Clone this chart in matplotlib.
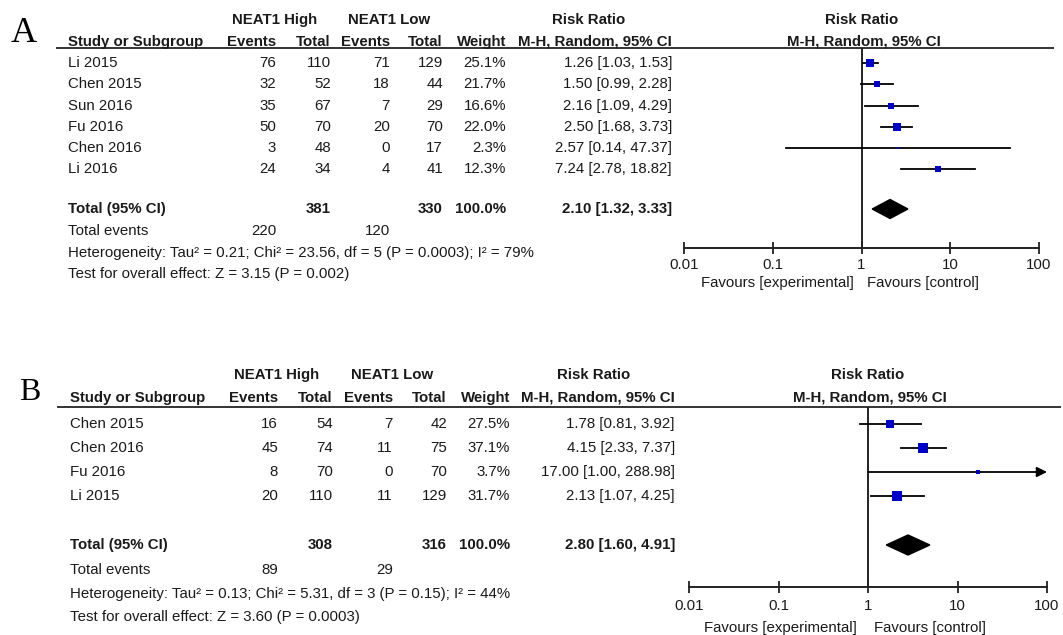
import matplotlib
matplotlib.use("Agg")
import matplotlib.pyplot as plt
import numpy as np
from matplotlib.patches import Polygon

plt.rcParams['font.family'] = ['Liberation Sans', 'DejaVu Sans']

# ---- Panel A: recurrence / prognosis data ----
A_studies = ["Li 2015", "Chen 2015", "Sun 2016", "Fu 2016", "Chen 2016", "Li 2016"]
A_ev_high = [76, 32, 35, 50, 3, 24]
A_tot_high = [110, 52, 67, 70, 48, 34]
A_ev_low = [71, 18, 7, 20, 0, 4]
A_tot_low = [129, 44, 29, 70, 17, 41]
A_weight = [25.1, 21.7, 16.6, 22.0, 2.3, 12.3]
A_rr = [1.26, 1.50, 2.16, 2.50, 2.57, 7.24]
A_lo = [1.03, 0.99, 1.09, 1.68, 0.14, 2.78]
A_hi = [1.53, 2.28, 4.29, 3.73, 47.37, 18.82]
A_pooled = [2.10, 1.32, 3.33]
A_het = "Heterogeneity: Tau² = 0.21; Chi² = 23.56, df = 5 (P = 0.0003); I² = 79%"
A_test = "Test for overall effect: Z = 3.15 (P = 0.002)"

# ---- Panel B ----
B_studies = ["Chen 2015", "Chen 2016", "Fu 2016", "Li 2015"]
B_ev_high = [16, 45, 8, 20]
B_tot_high = [54, 74, 70, 110]
B_ev_low = [7, 11, 0, 11]
B_tot_low = [42, 75, 70, 129]
B_weight = [27.5, 37.1, 3.7, 31.7]
B_rr = [1.78, 4.15, 17.00, 2.13]
B_lo = [0.81, 2.33, 1.00, 1.07]
B_hi = [3.92, 7.37, 288.98, 4.25]
B_pooled = [2.80, 1.60, 4.91]
B_het = "Heterogeneity: Tau² = 0.13; Chi² = 5.31, df = 3 (P = 0.15); I² = 44%"
B_test = "Test for overall effect: Z = 3.60 (P = 0.0003)"

tick_vals = [0.01, 0.1, 1, 10, 100]
tick_labels = ["0.01", "0.1", "1", "10", "100"]

W, H = 1063, 635
FS = 10.8
TXT = "#1a1a1a"
BLUE = "#0000c8"

fig = plt.figure(figsize=(W / 100, H / 100), dpi=100)
bg = fig.add_axes([0, 0, 1, 1])
bg.set_xlim(0, W)
bg.set_ylim(H, 0)
bg.axis("off")


def panel(letter, let_xy, let_fs, studies, ev_h, tot_h, ev_l, tot_l, weight, rr, lo, hi,
          pooled, het, test, lay):
    t = lambda x, y, s, ha="right", bold=False: bg.text(
        x, y, s, ha=ha, va="center", fontsize=FS, color=TXT,
        fontweight="bold" if bold else "normal")
    c = lay["cols"]
    bg.text(let_xy[0], let_xy[1], letter, fontsize=let_fs, family="Liberation Serif",
            ha="left", va="center", color="black")
    # header rows
    y1, y2 = lay["h1"], lay["h2"]
    t(lay["c_high"], y1, "NEAT1 High", "center", True)
    t(lay["c_low"], y1, "NEAT1 Low", "center", True)
    t(lay["c_rr"], y1, "Risk Ratio", "center", True)
    t(lay["c_plot"], y1, "Risk Ratio", "center", True)
    t(c["label"], y2, "Study or Subgroup", "left", True)
    t(c["evh"], y2, "Events", bold=True)
    t(c["toth"], y2, "Total", bold=True)
    t(c["evl"], y2, "Events", bold=True)
    t(c["totl"], y2, "Total", bold=True)
    t(c["w"], y2, "Weight", bold=True)
    t(c["ci"], y2, "M-H, Random, 95% CI", bold=True)
    t(lay["c_plot2"], y2, "M-H, Random, 95% CI", "center", True)
    bg.plot([lay["line_x0"], lay["line_x1"]], [lay["line_y"]] * 2, color="#333333", lw=1.4)

    for y, s, a, b, cc, d, w, r, l, h in zip(lay["rows"], studies, ev_h, tot_h, ev_l, tot_l,
                                           weight, rr, lo, hi):
        t(c["label"], y, s, "left")
        t(c["evh"], y, str(a))
        t(c["toth"], y, str(b))
        t(c["evl"], y, str(cc))
        t(c["totl"], y, str(d))
        t(c["w"], y, f"{w:.1f}%")
        t(c["ci"], y, f"{r:.2f} [{l:.2f}, {h:.2f}]")

    yt = lay["total"]
    t(c["label"], yt, "Total (95% CI)", "left", True)
    t(c["toth"], yt, str(sum(tot_h)), bold=True)
    t(c["totl"], yt, str(sum(tot_l)), bold=True)
    t(c["w"], yt, f"{sum(weight):.1f}%", bold=True)
    t(c["ci"], yt, f"{pooled[0]:.2f} [{pooled[1]:.2f}, {pooled[2]:.2f}]", bold=True)
    t(c["label"], lay["tev"], "Total events", "left")
    t(c["evh"], lay["tev"], str(sum(ev_h)))
    t(c["evl"], lay["tev"], str(sum(ev_l)))
    t(c["label"], lay["het"], het, "left")
    t(c["label"], lay["test"], test, "left")

    # forest plot axes (log scale), y in figure pixel rows
    x0, x1, ytop, yax = lay["plot"]
    ax = fig.add_axes([x0 / W, (H - yax) / H, (x1 - x0) / W, (yax - ytop) / H])
    ax.set_xscale("log")
    ax.set_xlim(0.01, 100)
    ax.set_ylim(yax, ytop)
    ax.patch.set_alpha(0)
    for sp in ("top", "left", "right"):
        ax.spines[sp].set_visible(False)
    ax.spines["bottom"].set_linewidth(1.4)
    ax.spines["bottom"].set_color("#222222")
    ax.set_yticks([])
    ax.set_xticks(tick_vals)
    ax.set_xticklabels([])
    ax.minorticks_off()
    ax.tick_params(axis="x", direction="inout", length=9, width=1.3, color="#222222")
    for v, s in zip(tick_vals, tick_labels):
        ax.text(v, lay["ticklab"], s, ha="center", va="center", fontsize=FS, color=TXT,
                clip_on=False)
    ax.text(lay["fav"][0], lay["fav"][2], "Favours [experimental]", ha="center", va="center",
            fontsize=FS, color=TXT, transform=bg.transData, clip_on=False)
    ax.text(lay["fav"][1], lay["fav"][2], "Favours [control]", ha="center", va="center",
            fontsize=FS, color=TXT, transform=bg.transData, clip_on=False)
    ax.axvline(1, color="#222222", lw=1.4, zorder=1)

    for y, w, r, l, h in zip(lay["rows"], weight, rr, lo, hi):
        if h > 100:
            ax.annotate("", xy=(100, y), xytext=(l, y),
                        arrowprops=dict(arrowstyle="-|>", color="black", lw=1.3,
                                        mutation_scale=15, shrinkA=0, shrinkB=0),
                        annotation_clip=False)
        else:
            ax.plot([l, h], [y, y], color="black", lw=1.3, zorder=2)
        side = lay["msk"] * np.sqrt(w) * 0.72
        ax.scatter([r], [y], marker="s", s=side ** 2, color=BLUE, zorder=3, linewidths=0)

    est, plo, phi = pooled
    dh = lay["dh"]
    ax.add_patch(Polygon([(plo, yt), (est, yt - dh), (phi, yt), (est, yt + dh)],
                         closed=True, color="black", zorder=3))


panel("A", (11, 33), 26, A_studies, A_ev_high, A_tot_high, A_ev_low, A_tot_low, A_weight,
      A_rr, A_lo, A_hi, A_pooled, A_het, A_test,
      dict(h1=20, h2=42, line_y=48, line_x0=57, line_x1=1053,
           rows=[63, 84, 106, 127, 148, 169], total=209, tev=231, het=253, test=274,
           c_high=275, c_low=389, c_rr=589, c_plot=862, c_plot2=864,
           cols=dict(label=68, evh=276, toth=331, evl=390, totl=443, w=506, ci=672),
           plot=(684, 1039, 48, 248), ticklab=265, fav=(777, 923, 283), msk=1.5, dh=9.5))

panel("B", (19, 392), 23, B_studies, B_ev_high, B_tot_high, B_ev_low, B_tot_low, B_weight,
      B_rr, B_lo, B_hi, B_pooled, B_het, B_test,
      dict(h1=375, h2=398, line_y=407, line_x0=58, line_x1=1060,
           rows=[424, 448, 472, 496], total=545, tev=570, het=594, test=617,
           c_high=277, c_low=392, c_rr=594, c_plot=868, c_plot2=870,
           cols=dict(label=70, evh=278, toth=333, evl=393, totl=447, w=510, ci=675),
           plot=(689, 1047, 407, 587), ticklab=606, fav=(780, 930, 628), msk=1.65, dh=10))

fig.savefig("out.png", dpi=100)
